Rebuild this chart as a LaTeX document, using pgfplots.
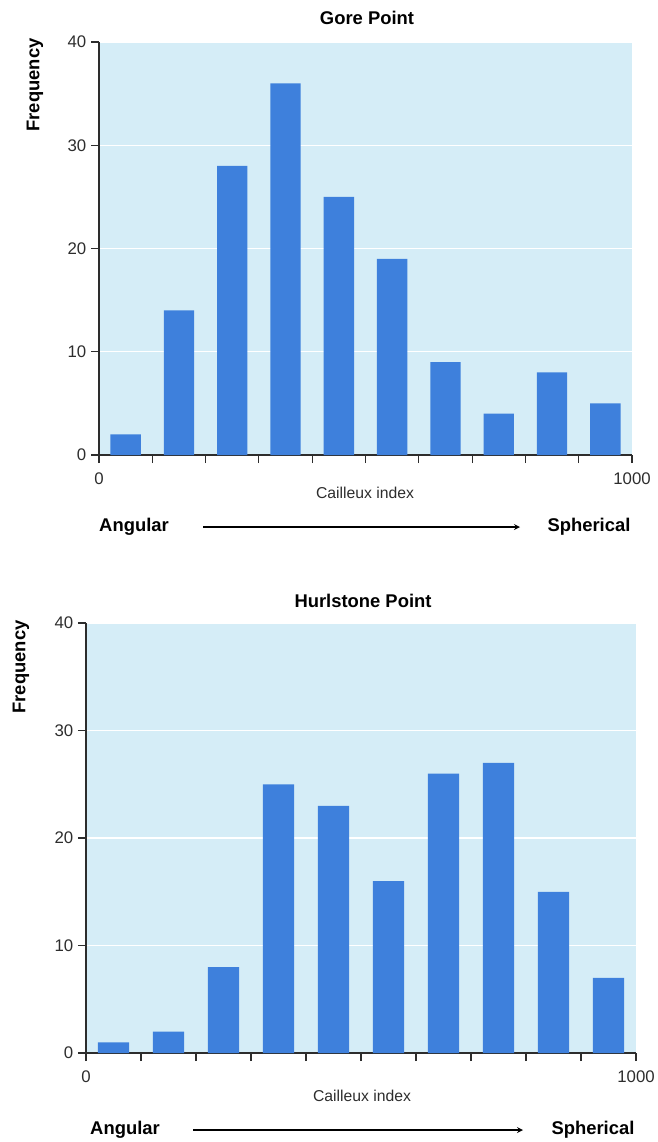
\documentclass[border=0pt]{standalone}
\usepackage{pgfplots}
\pgfplotsset{compat=1.18}
\usepackage{fontspec}
\setmainfont{Liberation Sans}
\definecolor{bgblue}{RGB}{213,237,247}
\definecolor{barblue}{RGB}{62,128,220}
\definecolor{axgray}{RGB}{45,45,45}
\pgfplotsset{
  histo/.style={
    scale only axis,
    xmin=0, xmax=1000, ymin=0, ymax=40,
    axis x line*=bottom, axis y line*=left,
    axis line style={axgray, line width=0.8pt},
    tick style={axgray, line width=0.8pt},
    tick align=outside,
    major tick length=6pt,
    xtick={0,100,...,1000},
    xticklabels={0,,,,,,,,,,1000},
    ytick={0,10,20,30,40},
    ymajorgrids,
    grid style={white, line width=1pt},
    axis background/.style={fill=bgblue},
    /pgf/number format/assume math mode=true,
    tick label style={font=\fontsize{12.6}{15}\selectfont, text=axgray},
    xticklabel style={yshift=-4pt},
    ybar, bar width=57,
    clip=false,
  }
}
\newcommand\bfl{\fontsize{13.8}{16}\selectfont\bfseries}
\begin{document}
\begin{tikzpicture}[x=0.75pt,y=-0.75pt]
\useasboundingbox (0,0) rectangle (657,1142);
% Top chart
\begin{axis}[histo, width=399.75pt, height=309.75pt, at={(74.25pt,-341.25pt)}, anchor=south west]
\addplot[fill=barblue, draw=none] coordinates {(50,2) (150,14) (250,28) (350,36) (450,25) (550,19) (650,9) (750,4) (850,8) (950,5)};
\end{axis}
\node[font=\bfl] at (367,18) {Gore Point};
\node[font=\bfl, rotate=90] at (35,85) {Frequency};
\node[font=\fontsize{11.8}{14}\selectfont, text=axgray] at (365,493) {Cailleux index};
\node[font=\bfl] at (134,527) {Angular};
\node[font=\bfl] at (589,527) {Spherical};
\draw[-stealth, line width=1pt] (203,527) -- (520,527);
% Bottom chart
\begin{axis}[histo, width=412.5pt, height=322.5pt, at={(64.5pt,-789.75pt)}, anchor=south west]
\addplot[fill=barblue, draw=none] coordinates {(50,1) (150,2) (250,8) (350,25) (450,23) (550,16) (650,26) (750,27) (850,15) (950,7)};
\end{axis}
\node[font=\bfl] at (363,601) {Hurlstone Point};
\node[font=\bfl, rotate=90] at (21,667) {Frequency};
\node[font=\fontsize{11.8}{14}\selectfont, text=axgray] at (362,1096) {Cailleux index};
\node[font=\bfl] at (125,1130) {Angular};
\node[font=\bfl] at (593,1130) {Spherical};
\draw[-stealth, line width=1pt] (193,1130) -- (523,1130);
\end{tikzpicture}
\end{document}
